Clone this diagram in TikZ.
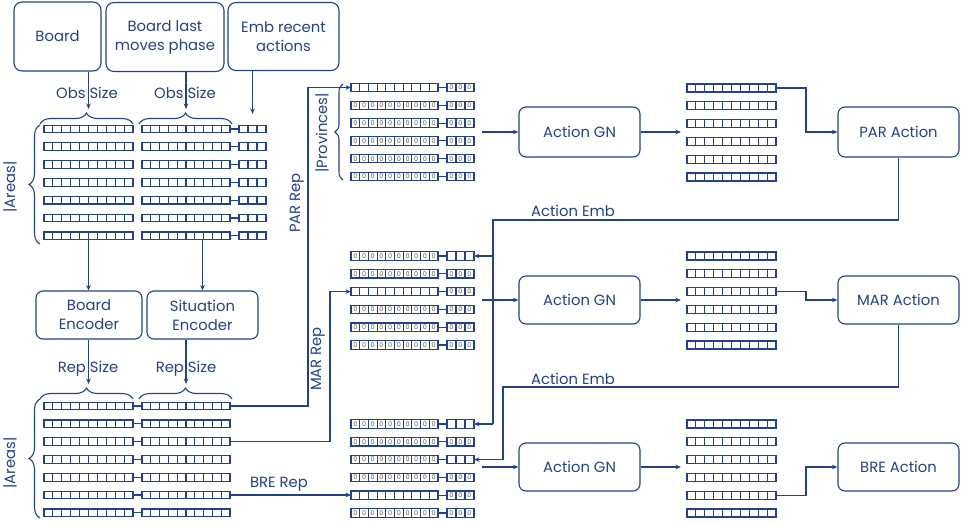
\documentclass[tikz,border=0pt]{standalone}
\usepackage{fontspec}
\setmainfont{Poppins}
\usetikzlibrary{arrows.meta,decorations.pathreplacing,calc}
\definecolor{db}{RGB}{34,64,150}
\definecolor{zg}{RGB}{95,95,95}
\tikzset{
  box/.style={draw=db, line width=1.1pt, rounded corners=8pt, text=db, align=center,
    inner sep=0pt, font=\fontsize{14.8}{19}\selectfont},
  lbl/.style={text=db, font=\fontsize{14.8}{17}\selectfont, inner sep=0pt},
  cellbox/.style={draw=db, line width=1.1pt},
  zero/.style={text=zg, font=\fontsize{6.5}{6.5}\selectfont, inner sep=0pt},
  conn/.style={draw=db, line width=1.1pt},
  arr/.style={conn, -{Stealth[length=5.5pt,width=4.5pt]}},
  brc/.style={draw=db, line width=1.1pt, decorate, decoration={brace, amplitude=#1}},
}
\newcommand{\cellrow}[7]{%
  \pgfmathsetmacro{\rowwd}{#4*#5}%
  \node[inner sep=0pt, outer sep=0pt, minimum width=\rowwd pt, minimum height=#6pt, anchor=west] (#1) at (#2,#3) {};%
  \foreach \k in {1,...,#4} {%
    \draw[cellbox] ({#2+(\k-1)*#5},{#3-#6/2}) rectangle ({#2+\k*#5},{#3+#6/2});%
    \node[zero] at ({#2+(\k-0.5)*#5},#3) {#7};%
  }%
}
\newcommand{\prow}[4]{%
  \cellrow{#1a}{351}{#2}{10}{8.7}{8.4}{#3}%
  \cellrow{#1b}{447}{#2}{3}{9}{8.4}{#4}%
  \draw[conn] (#1a.east) -- (#1b.west);%
}
\begin{document}
\begin{tikzpicture}[x=1pt,y=-1pt]
\useasboundingbox (0,0) rectangle (962,524);

% top input boxes
\node[box, minimum width=87pt, minimum height=69pt] (board) at (57.5,36.5) {Board};
\node[box, minimum width=118pt, minimum height=69pt] (blmp) at (165,37) {Board last\\moves phase};
\node[box, minimum width=111pt, minimum height=68pt] (emb) at (283.5,36.5) {Emb recent\\actions};

% top area matrices
\foreach \r in {1,...,7} {
  \pgfmathsetmacro{\yy}{129+17.8*(\r-1)}
  \cellrow{ta\r}{44}{\yy}{10}{8.9}{7.7}{}
  \cellrow{tb\r}{142}{\yy}{10}{8.8}{7.7}{}
  \cellrow{tc\r}{239}{\yy}{3}{9}{7.7}{}
  \draw[conn] (tb\r.east) -- (tc\r.west);
}
\draw[brc=11pt] (40,124) -- (133,124);
\draw[brc=11pt] (139,124) -- (232,124);
\draw[brc=11pt] (40,244) -- (40,125);
\node[lbl, rotate=90] at (10,187) {|Areas|};

\coordinate (o1) at (88.5,109);
\coordinate (o2) at (186,109);
\coordinate (o3) at (252.5,114);
\draw[arr] (board.south -| o1) -- (o1);
\draw[arr] (blmp.south -| o2) -- (o2);
\draw[arr] (emb.south -| o3) -- (o3);
\node[lbl] at (87,93) {Obs Size};
\node[lbl] at (185,93) {Obs Size};

% encoders
\node[box, rounded corners=7pt, minimum width=106pt, minimum height=48pt] (benc) at (89,315) {Board\\Encoder};
\node[box, rounded corners=7pt, minimum width=111pt, minimum height=48pt] (senc) at (202.5,315) {Situation\\Encoder};
\draw[arr] (ta7.south) -- (benc.north -| ta7.south);
\draw[arr] (senc.north |- tb7.south) -- (senc.north);

% lower area matrices
\foreach \r in {1,...,7} {
  \pgfmathsetmacro{\yy}{406+17.8*(\r-1)}
  \cellrow{la\r}{44}{\yy}{10}{8.9}{7.7}{}
  \cellrow{lb\r}{142}{\yy}{10}{8.8}{7.7}{}
  \draw[conn] (la\r.east) -- (lb\r.west);
}
\draw[brc=11pt] (40,399) -- (133,399);
\draw[brc=11pt] (139,399) -- (232,399);
\draw[brc=11pt] (40,518) -- (40,399);
\node[lbl, rotate=90] at (10,463) {|Areas|};

\coordinate (r1) at (88.5,384);
\coordinate (r2) at (186,384);
\draw[arr] (benc.south -| r1) -- (r1);
\draw[arr] (senc.south -| r2) -- (r2);
\node[lbl] at (88,369) {Rep Size};
\node[lbl] at (186,369) {Rep Size};

% province matrices
\prow{p1}{87.5}{}{0}
\prow{p2}{105.3}{0}{0}
\prow{p3}{123.1}{0}{0}
\prow{p4}{140.9}{0}{0}
\prow{p5}{158.7}{0}{0}
\prow{p6}{176.5}{0}{0}
\draw[brc=8pt] (343,180) -- (343,84);
\node[lbl, rotate=90] at (322,133) {|Provinces|};

\prow{m1}{256}{0}{}
\prow{m2}{273.8}{0}{0}
\prow{m3}{291.6}{}{0}
\prow{m4}{309.4}{0}{0}
\prow{m5}{327.2}{0}{0}
\prow{m6}{345}{0}{0}

\prow{b1}{424}{0}{}
\prow{b2}{441.8}{0}{0}
\prow{b3}{459.6}{0}{}
\prow{b4}{477.4}{0}{0}
\prow{b5}{495.2}{}{0}
\prow{b6}{513}{0}{0}

% rep connectors
\coordinate (parx) at (308,0);
\coordinate (marx) at (330,0);
\draw[arr] (lb1.east) -| (parx |- p1a.west) -- (p1a.west);
\draw[arr] (lb3.east) -| (marx |- m3a.west) -- (m3a.west);
\draw[arr] (lb6.east) -- (b5a.west |- lb6.east);
\node[lbl, rotate=90] at (297,203) {PAR Rep};
\node[lbl, rotate=90] at (318,359) {MAR Rep};
\node[lbl] at (279,484) {BRE Rep};

% action GN
\node[box, rounded corners=7pt, minimum width=121pt, minimum height=50pt] (gn1) at (579.5,132) {Action GN};
\node[box, rounded corners=7pt, minimum width=121pt, minimum height=48pt] (gn2) at (579.5,300) {Action GN};
\node[box, rounded corners=7pt, minimum width=121pt, minimum height=48pt] (gn3) at (579.5,467) {Action GN};
\coordinate (i1) at (482,132);
\coordinate (i2) at (482,300);
\coordinate (i3) at (482,467);
\draw[arr] (i1) -- (gn1.west);
\draw[arr] (i2) -- (gn2.west);
\draw[arr] (i3) -- (gn3.west);
\coordinate (g1) at (681,132);
\coordinate (g2) at (681,300);
\coordinate (g3) at (681,467);
\draw[arr] (gn1.east) -- (g1);
\draw[arr] (gn2.east) -- (g2);
\draw[arr] (gn3.east) -- (g3);

% output matrices
\foreach \r in {1,...,6} {
  \pgfmathsetmacro{\ya}{88+17.8*(\r-1)}
  \pgfmathsetmacro{\yb}{256+17.8*(\r-1)}
  \pgfmathsetmacro{\yc}{424+17.8*(\r-1)}
  \cellrow{po\r}{687}{\ya}{10}{8.9}{8}{}
  \cellrow{mo\r}{687}{\yb}{10}{8.9}{8}{}
  \cellrow{bo\r}{687}{\yc}{10}{8.9}{8}{}
}

% action heads
\node[box, rounded corners=7pt, minimum width=121pt, minimum height=50pt] (par) at (898.5,132) {PAR Action};
\node[box, rounded corners=7pt, minimum width=121pt, minimum height=48pt] (mar) at (898.5,300) {MAR Action};
\node[box, rounded corners=7pt, minimum width=121pt, minimum height=48pt] (bre) at (898.5,467) {BRE Action};
\coordinate (ox) at (806,0);
\draw[arr] (po1.east) -| (ox |- par.west) -- (par.west);
\draw[arr] (mo3.east) -| (ox |- mar.west) -- (mar.west);
\draw[arr] (bo5.east) -| (ox |- bre.west) -- (bre.west);

% action embeddings
\coordinate (e1) at (493,220);
\coordinate (e2) at (503,387);
\draw[conn] (par.south) |- (e1) -- (e1 |- b1b.east);
\draw[arr] (e1 |- m1b.east) -- (m1b.east);
\draw[arr] (e1 |- b1b.east) -- (b1b.east);
\draw[arr] (mar.south) |- (e2) |- (b3b.east);
\node[lbl] at (573,211) {Action Emb};
\node[lbl] at (573,379) {Action Emb};
\end{tikzpicture}
\end{document}
